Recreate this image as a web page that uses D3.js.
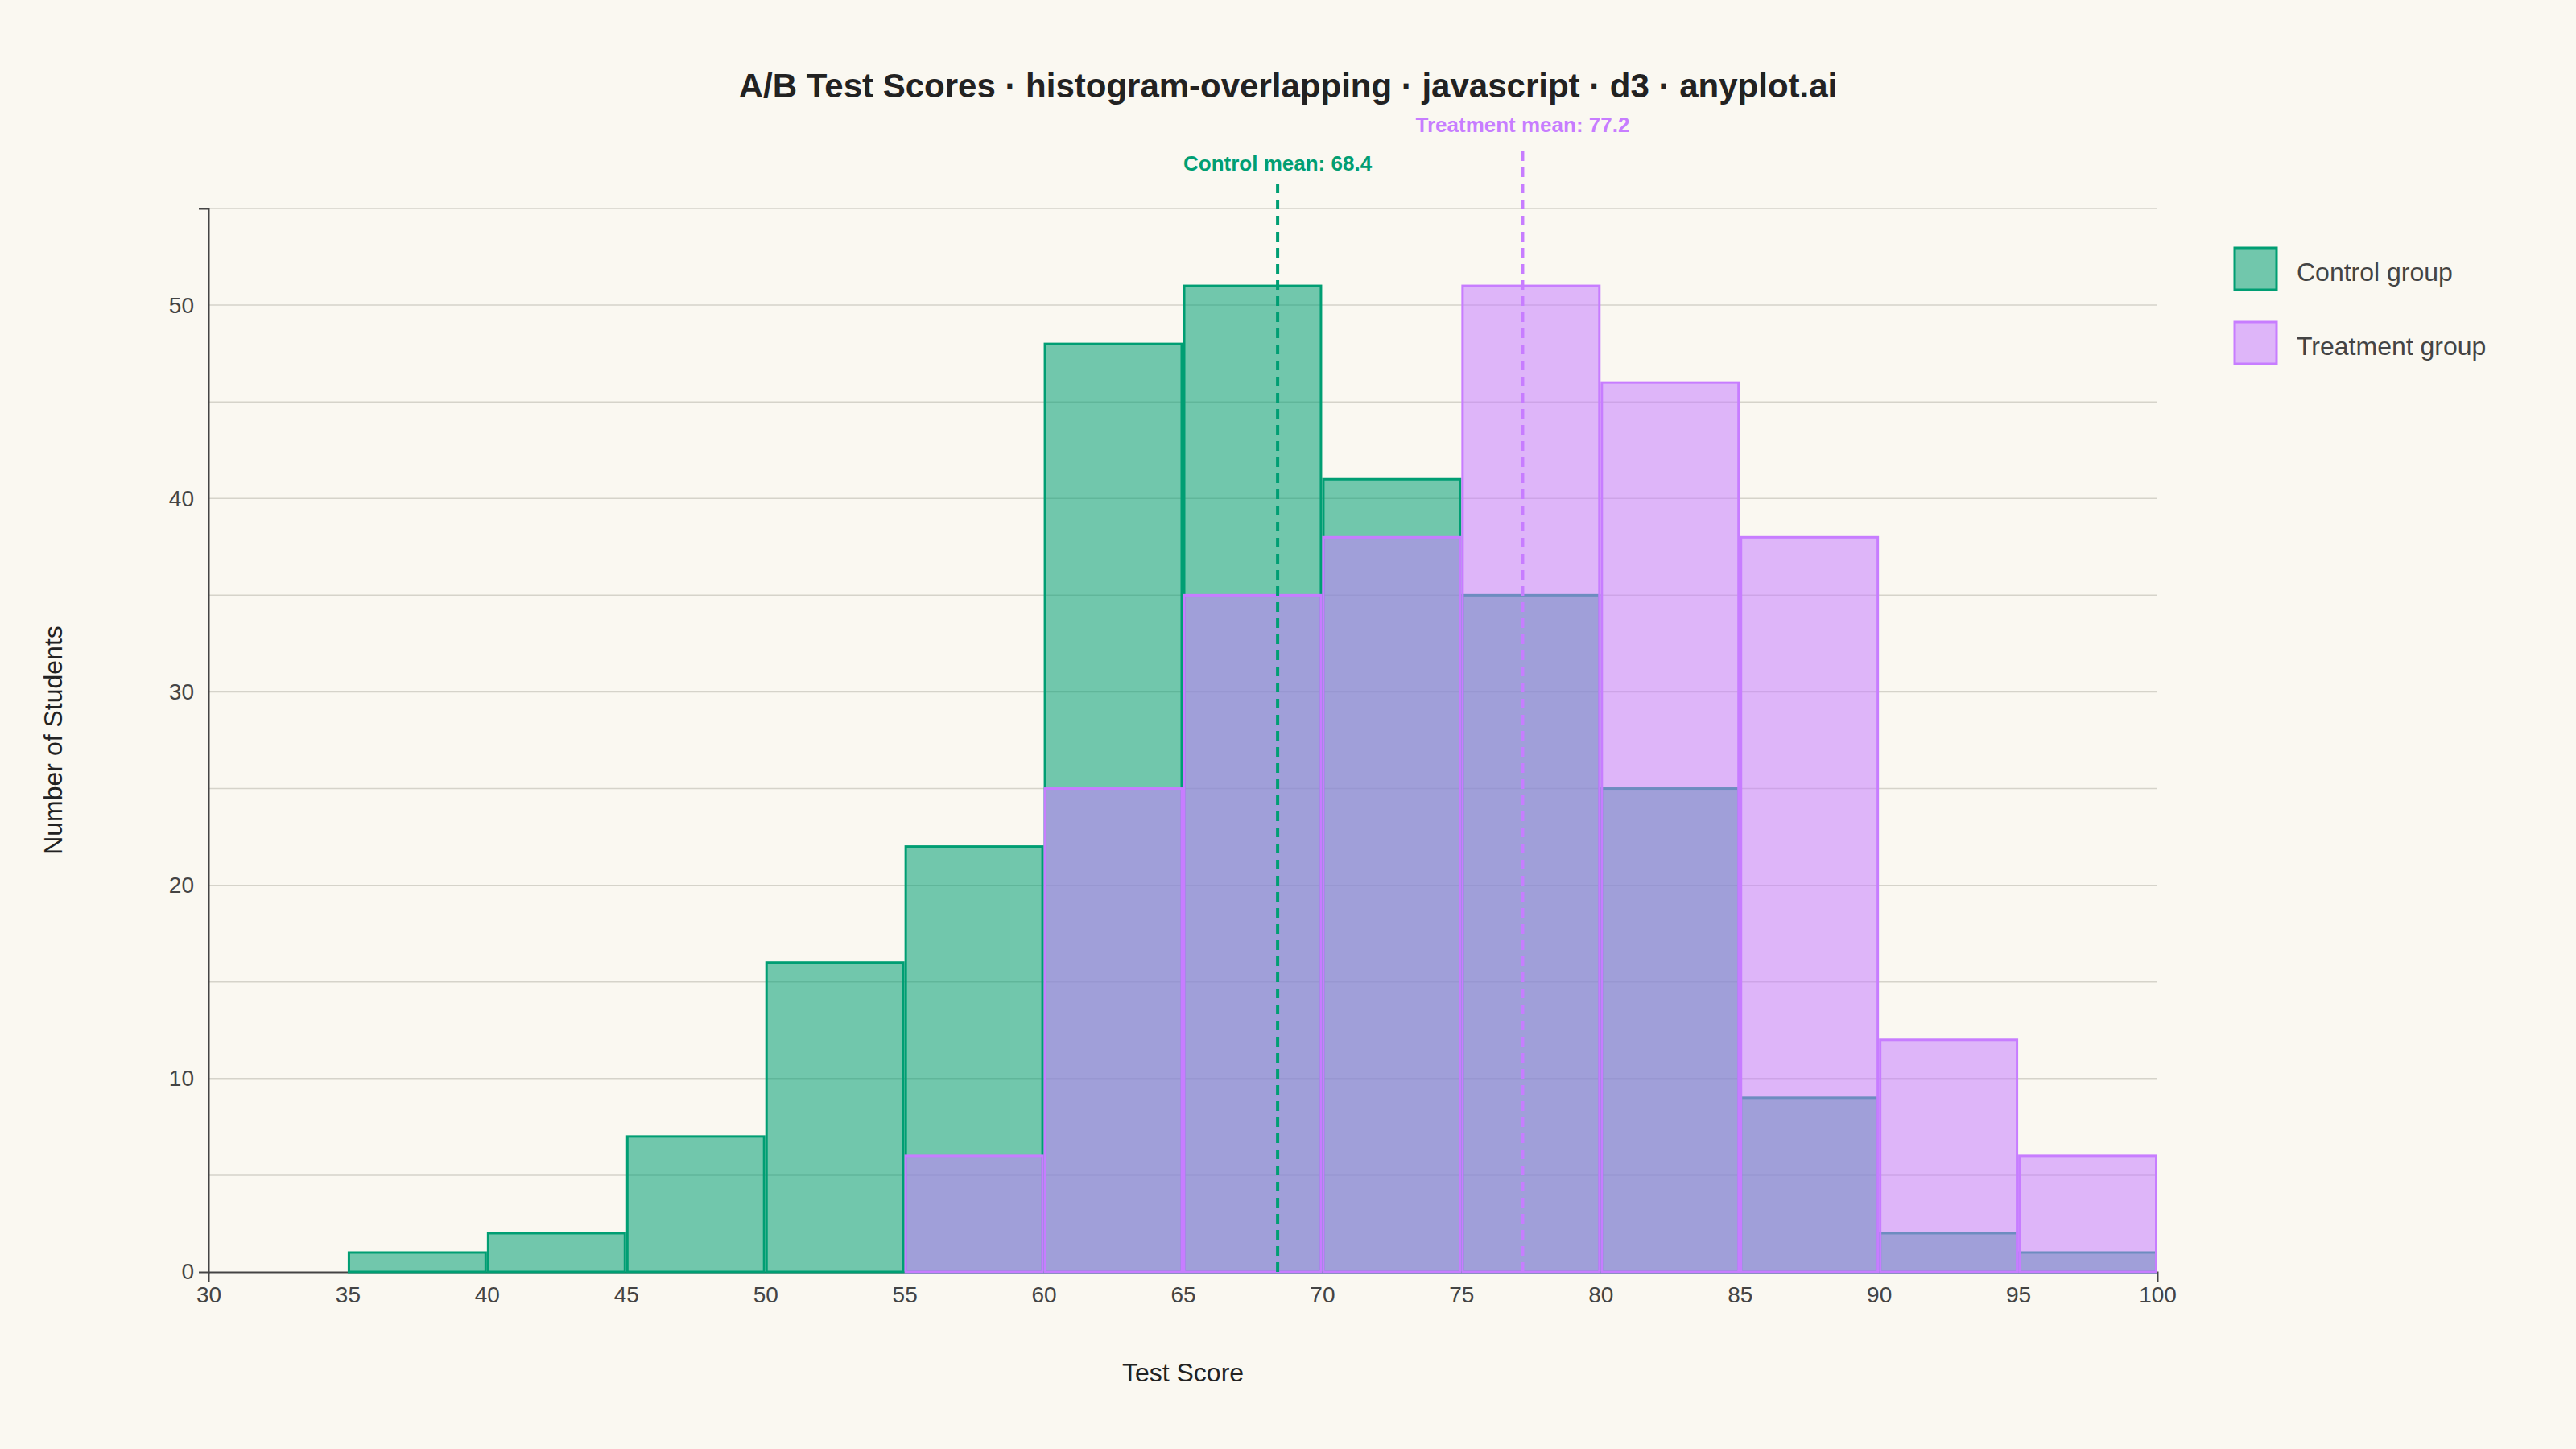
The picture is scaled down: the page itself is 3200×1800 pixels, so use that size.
<!DOCTYPE html>
<html>
<head>
<meta charset="utf-8">
<script src="https://cdn.jsdelivr.net/npm/d3@7"></script>
<style>
  body { margin: 0; background: #FAF8F1; }
  svg { display: block; font-family: "Liberation Sans", Arial, sans-serif; }
</style>
</head>
<body>
<div id="chart"></div>
<script>
// bin edges (score ranges of width 5)
const binEdges = [35, 40, 45, 50, 55, 60, 65, 70, 75, 80, 85, 90, 95, 100];
// students per bin, one value per bin above
const controlCounts   = [1, 2, 7, 16, 22, 48, 51, 41, 35, 25, 9, 2, 1];
const treatmentCounts = [0, 0, 0, 0, 6, 25, 35, 38, 51, 46, 38, 12, 6];
const groupNames = ["Control group", "Treatment group"];
const groupMeans = [68.4, 77.2];
const xTicks = [30, 35, 40, 45, 50, 55, 60, 65, 70, 75, 80, 85, 90, 95, 100];
const yTicks = [0, 10, 20, 30, 40, 50];
const yGrid  = [5, 10, 15, 20, 25, 30, 35, 40, 45, 50, 55];

const W = 3200, H = 1800;
const margin = {top: 259, right: 520, bottom: 220, left: 259};
const colors = ["#009E73", "#C77DFF"];

const svg = d3.select("#chart").append("svg")
  .attr("width", W).attr("height", H);

svg.append("rect").attr("width", W).attr("height", H).attr("fill", "#FAF8F1");

const x = d3.scaleLinear().domain([30, 100]).range([margin.left, W - margin.right]);
const y = d3.scaleLinear().domain([0, 55]).range([H - margin.bottom, margin.top]);

// gridlines
svg.append("g")
  .selectAll("line")
  .data(yGrid)
  .join("line")
    .attr("x1", margin.left).attr("x2", W - margin.right)
    .attr("y1", d => y(d)).attr("y2", d => y(d))
    .attr("stroke", "#D5D3CA")
    .attr("stroke-width", 1.5);

// axes (drawn under the bars)
const xAxis = svg.append("g")
  .attr("transform", `translate(0,${y(0)})`)
  .call(d3.axisBottom(x).tickValues(xTicks).tickSizeInner(0).tickSizeOuter(12).tickPadding(18));

const yAxis = svg.append("g")
  .attr("transform", `translate(${x(30)},0)`)
  .call(d3.axisLeft(y).tickValues(yTicks).tickSizeInner(0).tickSizeOuter(12).tickPadding(18));

[xAxis, yAxis].forEach(a => {
  a.select(".domain").attr("stroke", "#444").attr("stroke-width", 2);
  a.selectAll("text").attr("font-size", 28).attr("fill", "#444")
    .attr("font-family", "'Liberation Sans', Arial, sans-serif");
});

// build bins for each group
const bins = binEdges.slice(0, -1).map((lo, i) => ({
  lo: lo, hi: binEdges[i + 1], counts: [controlCounts[i], treatmentCounts[i]]
}));

[0, 1].forEach(g => {
  svg.append("g")
    .selectAll("rect")
    .data(bins.filter(b => b.counts[g] > 0))
    .join("rect")
      .attr("x", d => x(d.lo) + 1.5)
      .attr("width", d => x(d.hi) - x(d.lo) - 3)
      .attr("y", d => y(d.counts[g]))
      .attr("height", d => y(0) - y(d.counts[g]))
      .attr("fill", colors[g])
      .attr("fill-opacity", 0.55)
      .attr("stroke", colors[g])
      .attr("stroke-width", 3);
});

// mean lines + labels
const labelOffsets = [47, 95];   // label height above the plot top
const lineOffsets = [31, 71];
groupMeans.forEach((m, g) => {
  svg.append("line")
    .attr("x1", x(m)).attr("x2", x(m))
    .attr("y1", margin.top - lineOffsets[g]).attr("y2", y(0))
    .attr("stroke", colors[g])
    .attr("stroke-width", 4)
    .attr("stroke-dasharray", "12,8");
  svg.append("text")
    .attr("x", x(m))
    .attr("y", margin.top - labelOffsets[g])
    .attr("text-anchor", "middle")
    .attr("font-size", 26)
    .attr("font-weight", "bold")
    .attr("fill", colors[g])
    .text((g === 0 ? "Control" : "Treatment") + " mean: " + m.toFixed(1));
});

// legend
const legend = svg.append("g").attr("transform", "translate(2776,308)");
groupNames.forEach((name, g) => {
  const row = legend.append("g").attr("transform", `translate(0,${g * 92})`);
  row.append("rect")
    .attr("width", 52).attr("height", 52)
    .attr("fill", colors[g]).attr("fill-opacity", 0.55)
    .attr("stroke", colors[g]).attr("stroke-width", 3);
  row.append("text")
    .attr("x", 77).attr("y", 30).attr("dy", "0.35em")
    .attr("font-size", 32).attr("fill", "#444")
    .text(name);
});

// title
svg.append("text")
  .attr("x", W / 2).attr("y", 121)
  .attr("text-anchor", "middle")
  .attr("font-size", 42).attr("font-weight", "bold").attr("fill", "#222")
  .text("A/B Test Scores · histogram-overlapping · javascript · d3 · anyplot.ai");

// axis labels
svg.append("text")
  .attr("x", (x(30) + x(100)) / 2).attr("y", 1716)
  .attr("text-anchor", "middle")
  .attr("font-size", 32).attr("fill", "#222")
  .text("Test Score");

svg.append("text")
  .attr("transform", `translate(77,${(y(0) + y(55)) / 2}) rotate(-90)`)
  .attr("text-anchor", "middle")
  .attr("font-size", 32).attr("fill", "#222")
  .text("Number of Students");
</script>
</body>
</html>
